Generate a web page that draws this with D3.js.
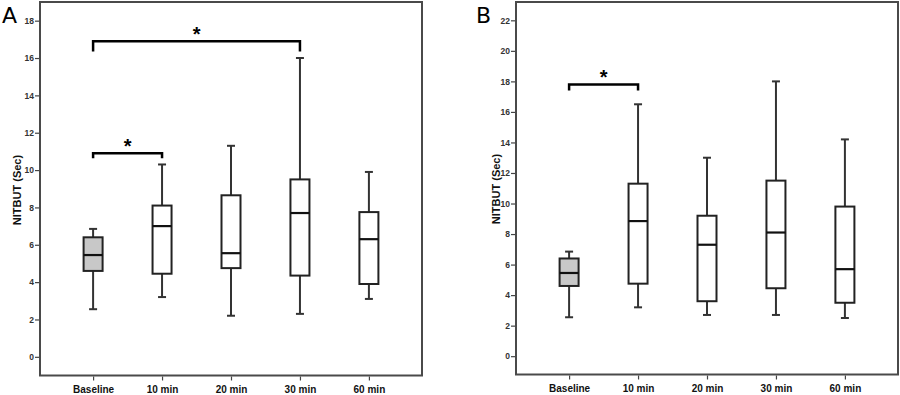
<!DOCTYPE html>
<html>
<head>
<meta charset="utf-8">
<script src="https://cdnjs.cloudflare.com/ajax/libs/d3/7.8.5/d3.min.js"></script>
<style>
  body { margin: 0; background: #fff; }
  svg { display: block; }
  .tick text { font-family: "Liberation Sans Narrow", "Liberation Sans", Arial, sans-serif; font-weight: bold; fill: #333; }
</style>
</head>
<body>
<svg id="chart"></svg>
<script>
// Categories shared by both panels
var categories = ['Baseline', '10 min', '20 min', '30 min', '60 min'];

// Panel A: [low whisker, Q1, median, Q3, high whisker]
var boxesA = [
  [2.55, 4.6, 5.45, 6.4, 6.85],
  [3.2, 4.45, 7.0, 8.1, 10.3],
  [2.2, 4.75, 5.55, 8.65, 11.3],
  [2.3, 4.35, 7.7, 9.5, 16.0],
  [3.1, 3.9, 6.3, 7.75, 9.9]
];
var ticksA = [0, 2, 4, 6, 8, 10, 12, 14, 16, 18];
// significance brackets: [from, to, top level, leg end level]
var sigA = [
  ['Baseline', '30 min', 16.9, 16.35],
  ['Baseline', '10 min', 10.9, 10.63]
];

// Panel B
var boxesB = [
  [2.55, 4.6, 5.45, 6.4, 6.85],
  [3.2, 4.75, 8.85, 11.3, 16.5],
  [2.7, 3.6, 7.3, 9.2, 13.0],
  [2.7, 4.45, 8.1, 11.5, 18.0],
  [2.5, 3.5, 5.7, 9.8, 14.2]
];
var ticksB = [0, 2, 4, 6, 8, 10, 12, 14, 16, 18, 20, 22];
var sigB = [
  ['Baseline', '10 min', 17.8, 17.4]
];

var svg = d3.select('#chart')
  .attr('width', 900)
  .attr('height', 395);

function drawPanel(opts) {
  var g = svg.append('g');
  var xScale = d3.scalePoint()
    .domain(categories)
    .range([opts.left, opts.right])
    .padding(0.77);
  var yScale = d3.scaleLinear()
    .domain(opts.yDomain)
    .range([opts.bottom, opts.top]);

  // frame
  g.append('rect')
    .attr('x', opts.left)
    .attr('y', opts.top)
    .attr('width', opts.right - opts.left)
    .attr('height', opts.bottom - opts.top)
    .attr('fill', 'none')
    .attr('stroke', '#4a4a4a')
    .attr('stroke-width', 2);

  // y axis
  var yAxis = g.append('g')
    .attr('transform', 'translate(' + (opts.left - 1) + ',0)')
    .call(d3.axisLeft(yScale).tickValues(opts.ticks).tickSize(4).tickPadding(1));
  yAxis.select('.domain').remove();
  yAxis.selectAll('line').attr('stroke', '#444').attr('stroke-width', 1.2);
  yAxis.selectAll('text').style('font-size', '8.5px');

  // x axis
  var xAxis = g.append('g')
    .attr('transform', 'translate(0,' + (opts.bottom + 1) + ')')
    .call(d3.axisBottom(xScale).tickSize(4).tickPadding(5));
  xAxis.select('.domain').remove();
  xAxis.selectAll('line').attr('stroke', '#444').attr('stroke-width', 1.2);
  xAxis.selectAll('text').style('font-size', '10px').style('fill', '#111');

  // y axis title
  g.append('text')
    .attr('transform', 'translate(' + opts.labelX + ',' + opts.labelY + ') rotate(-90)')
    .attr('text-anchor', 'middle')
    .style('font-family', '"Liberation Sans", Arial, sans-serif')
    .style('font-weight', 'bold')
    .style('font-size', '11px')
    .style('fill', '#111')
    .text('NITBUT (Sec)');

  // panel letter
  g.append('text')
    .attr('x', opts.letterX)
    .attr('y', 23)
    .style('font-family', '"DejaVu Sans", sans-serif')
    .style('font-size', '22px')
    .style('fill', '#000')
    .text(opts.letter);

  var boxW = 19;
  var capW = 8;
  var box = g.selectAll('.box')
    .data(opts.boxes)
    .enter().append('g')
    .attr('class', 'box')
    .attr('transform', function(d, i) {
      return 'translate(' + xScale(categories[i]) + ',0)';
    });

  // whiskers
  box.append('line')
    .attr('y1', function(d) { return yScale(d[0]); })
    .attr('y2', function(d) { return yScale(d[1]); })
    .attr('stroke', '#333').attr('stroke-width', 2);
  box.append('line')
    .attr('y1', function(d) { return yScale(d[3]); })
    .attr('y2', function(d) { return yScale(d[4]); })
    .attr('stroke', '#333').attr('stroke-width', 2);
  box.append('line')
    .attr('x1', -capW / 2).attr('x2', capW / 2)
    .attr('y1', function(d) { return yScale(d[0]); })
    .attr('y2', function(d) { return yScale(d[0]); })
    .attr('stroke', '#333').attr('stroke-width', 2);
  box.append('line')
    .attr('x1', -capW / 2).attr('x2', capW / 2)
    .attr('y1', function(d) { return yScale(d[4]); })
    .attr('y2', function(d) { return yScale(d[4]); })
    .attr('stroke', '#333').attr('stroke-width', 2);

  // boxes
  box.append('rect')
    .attr('x', -boxW / 2)
    .attr('width', boxW)
    .attr('y', function(d) { return yScale(d[3]); })
    .attr('height', function(d) { return yScale(d[1]) - yScale(d[3]); })
    .attr('fill', function(d, i) { return i === 0 ? '#c8c8c8' : '#fff'; })
    .attr('stroke', '#222')
    .attr('stroke-width', 2);

  // medians
  box.append('line')
    .attr('x1', -boxW / 2).attr('x2', boxW / 2)
    .attr('y1', function(d) { return yScale(d[2]); })
    .attr('y2', function(d) { return yScale(d[2]); })
    .attr('stroke', '#111').attr('stroke-width', 2.2);

  // significance brackets
  opts.sig.forEach(function(s) {
    var x1 = xScale(s[0]);
    var x2 = xScale(s[1]);
    var yTop = yScale(s[2]);
    var yEnd = yScale(s[3]);
    g.append('path')
      .attr('d', 'M' + x1 + ',' + yEnd + 'V' + yTop + 'H' + x2 + 'V' + yEnd)
      .attr('fill', 'none')
      .attr('stroke', '#000')
      .attr('stroke-width', 2.5);
    g.append('text')
      .attr('x', (x1 + x2) / 2)
      .attr('y', yTop)
      .attr('text-anchor', 'middle')
      .style('font-family', '"Liberation Sans", Arial, sans-serif')
      .style('font-weight', 'bold')
      .style('font-size', '20px')
      .text('*');
  });
}

drawPanel({
  left: 40, right: 422, top: 2, bottom: 375.5,
  yDomain: [-1, 19], ticks: ticksA, boxes: boxesA, sig: sigA,
  letter: 'A', letterX: 2, labelX: 21, labelY: 190
});

drawPanel({
  left: 516, right: 898, top: 2, bottom: 374.5,
  yDomain: [-1.2, 23.2], ticks: ticksB, boxes: boxesB, sig: sigB,
  letter: 'B', letterX: 476, labelX: 500, labelY: 189
});
</script>
</body>
</html>
